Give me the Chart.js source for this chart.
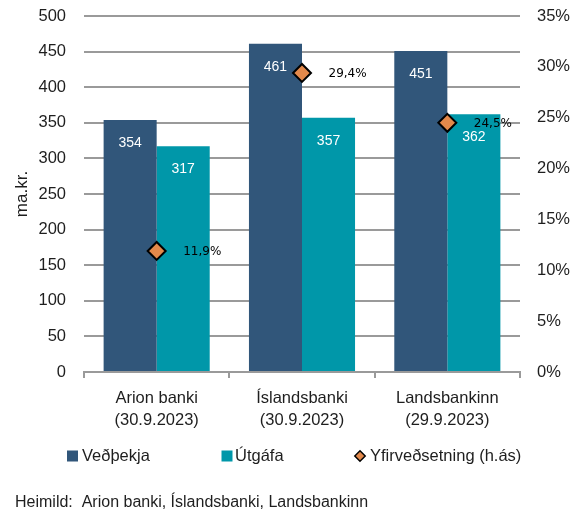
<!DOCTYPE html>
<html>
<head>
<meta charset="utf-8">
<script src="https://cdn.jsdelivr.net/npm/chart.js@4.4.0/dist/chart.umd.min.js"></script>
<style>
  html, body { margin: 0; padding: 0; background: #ffffff; }
  #wrap { width: 577px; height: 516px; position: relative; }
</style>
</head>
<body>
<div id="wrap"><canvas id="c" width="577" height="516"></canvas></div>
<script>
const categories = [
  ['Arion banki', '(30.9.2023)'],
  ['Íslandsbanki', '(30.9.2023)'],
  ['Landsbankinn', '(29.9.2023)']
];
const vedthekja = [354, 461, 451];
const utgafa = [317, 357, 362];
const yfirvedsetning = [11.9, 29.4, 24.5];
const leftTicks = { min: 0, max: 500, step: 50 };
const rightTicks = { min: 0, max: 35, step: 5 };
const seriesNames = ['Veðþekja', 'Útgáfa', 'Yfirveðsetning (h.ás)'];
const sourceText = 'Heimild:  Arion banki, Íslandsbanki, Landsbankinn';

const C_DARK = '#31567A';
const C_TEAL = '#0097A9';
const C_ORANGE = '#E3894B';
const GRID = '#9a9a9a';
const TXT = '#1e1e1e';
const FONT = "'Liberation Sans', Arial, sans-serif";

function fmtPct(v) { return v.toFixed(1).replace('.', ',') + '%'; }

const labelsPlugin = {
  id: 'customLabels',
  afterDatasetsDraw(chart) {
    const ctx = chart.ctx;
    ctx.save();
    [0, 1].forEach(di => {
      const meta = chart.getDatasetMeta(di);
      meta.data.forEach((bar, i) => {
        ctx.font = '14px ' + FONT;
        ctx.fillStyle = '#ffffff';
        ctx.textAlign = 'center';
        ctx.textBaseline = 'middle';
        ctx.fillText(String(chart.data.datasets[di].data[i]), bar.x, bar.y + 23);
      });
    });
    const meta2 = chart.getDatasetMeta(2);
    meta2.data.forEach((pt, i) => {
      ctx.font = "12px 'DejaVu Sans', Verdana, sans-serif";
      ctx.fillStyle = '#000000';
      ctx.textAlign = 'left';
      ctx.textBaseline = 'middle';
      ctx.fillText(fmtPct(chart.data.datasets[2].data[i]), pt.x + 26.5, pt.y + 1);
    });
    ctx.restore();
  },
  afterDraw(chart) {
    const ctx = chart.ctx;
    ctx.save();
    const ds = chart.data.datasets;
    const ly = 456;
    ctx.font = '16.5px ' + FONT;
    ctx.textBaseline = 'middle';
    ctx.textAlign = 'left';
    ctx.fillStyle = ds[0].backgroundColor;
    ctx.fillRect(67, ly - 5.5, 11, 11);
    ctx.fillStyle = TXT;
    ctx.fillText(ds[0].label, 82, ly);
    ctx.fillStyle = ds[1].backgroundColor;
    ctx.fillRect(221.5, ly - 5.5, 11, 11);
    ctx.fillStyle = TXT;
    ctx.fillText(ds[1].label, 235, ly);
    const cx = 360, r = 5.2;
    ctx.beginPath();
    ctx.moveTo(cx - r, ly);
    ctx.lineTo(cx, ly - r);
    ctx.lineTo(cx + r, ly);
    ctx.lineTo(cx, ly + r);
    ctx.closePath();
    ctx.fillStyle = ds[2].backgroundColor;
    ctx.fill();
    ctx.lineWidth = 1.5;
    ctx.strokeStyle = '#000';
    ctx.stroke();
    ctx.fillStyle = TXT;
    ctx.fillText(ds[2].label, 370, ly);
    ctx.font = '16px ' + FONT;
    ctx.fillText(sourceText, 15, 503);
    ctx.restore();
  }
};

new Chart(document.getElementById('c'), {
  type: 'bar',
  data: {
    labels: categories,
    datasets: [
      {
        label: seriesNames[0],
        data: vedthekja,
        backgroundColor: C_DARK,
        yAxisID: 'y',
        barPercentage: 1.0,
        categoryPercentage: 0.73,
        order: 2
      },
      {
        label: seriesNames[1],
        data: utgafa,
        backgroundColor: C_TEAL,
        yAxisID: 'y',
        barPercentage: 1.0,
        categoryPercentage: 0.73,
        order: 2
      },
      {
        type: 'line',
        label: seriesNames[2],
        data: yfirvedsetning,
        yAxisID: 'y1',
        showLine: false,
        pointStyle: 'rectRot',
        pointRadius: 9,
        pointHoverRadius: 9,
        pointBorderWidth: 2,
        borderColor: '#000000',
        backgroundColor: C_ORANGE,
        pointBackgroundColor: C_ORANGE,
        pointBorderColor: '#000000',
        order: 0
      }
    ]
  },
  options: {
    responsive: false,
    animation: false,
    devicePixelRatio: 1,
    layout: { padding: { top: 16, left: 0, right: 0, bottom: 72 } },
    plugins: {
      legend: { display: false },
      tooltip: { enabled: false },
      title: { display: false }
    },
    scales: {
      x: {
        offset: true,
        grid: {
          display: true,
          offset: true,
          drawOnChartArea: false,
          drawTicks: true,
          tickLength: 6,
          color: GRID,
          lineWidth: 2
        },
        border: { display: true, color: GRID, width: 2 },
        ticks: {
          color: TXT,
          font: { family: FONT, size: 16.5, lineHeight: 1.35 },
          padding: 9,
          maxRotation: 0,
          autoSkip: false
        },
        afterFit(scale) { scale.height = 72; scale.paddingLeft = 0; scale.paddingRight = 0; }
      },
      y: {
        position: 'left',
        min: leftTicks.min,
        max: leftTicks.max,
        ticks: {
          stepSize: leftTicks.step,
          color: TXT,
          font: { family: FONT, size: 16.5 },
          padding: 18
        },
        grid: { color: GRID, lineWidth: 2, drawTicks: false },
        border: { display: false },
        title: {
          display: true,
          text: 'ma.kr.',
          color: TXT,
          font: { family: FONT, size: 17 },
          padding: { top: 12, bottom: 0 }
        },
        afterFit(scale) { scale.width = 84; scale.paddingTop = 0; scale.paddingBottom = 0; }
      },
      y1: {
        position: 'right',
        min: rightTicks.min,
        max: rightTicks.max,
        ticks: {
          stepSize: rightTicks.step,
          color: TXT,
          font: { family: FONT, size: 16.5 },
          padding: 17,
          callback: v => v + '%'
        },
        grid: { display: false, drawTicks: false, drawOnChartArea: false },
        border: { display: false },
        afterFit(scale) { scale.width = 57; scale.paddingTop = 0; scale.paddingBottom = 0; }
      }
    }
  },
  plugins: [labelsPlugin]
});
</script>
</body>
</html>
